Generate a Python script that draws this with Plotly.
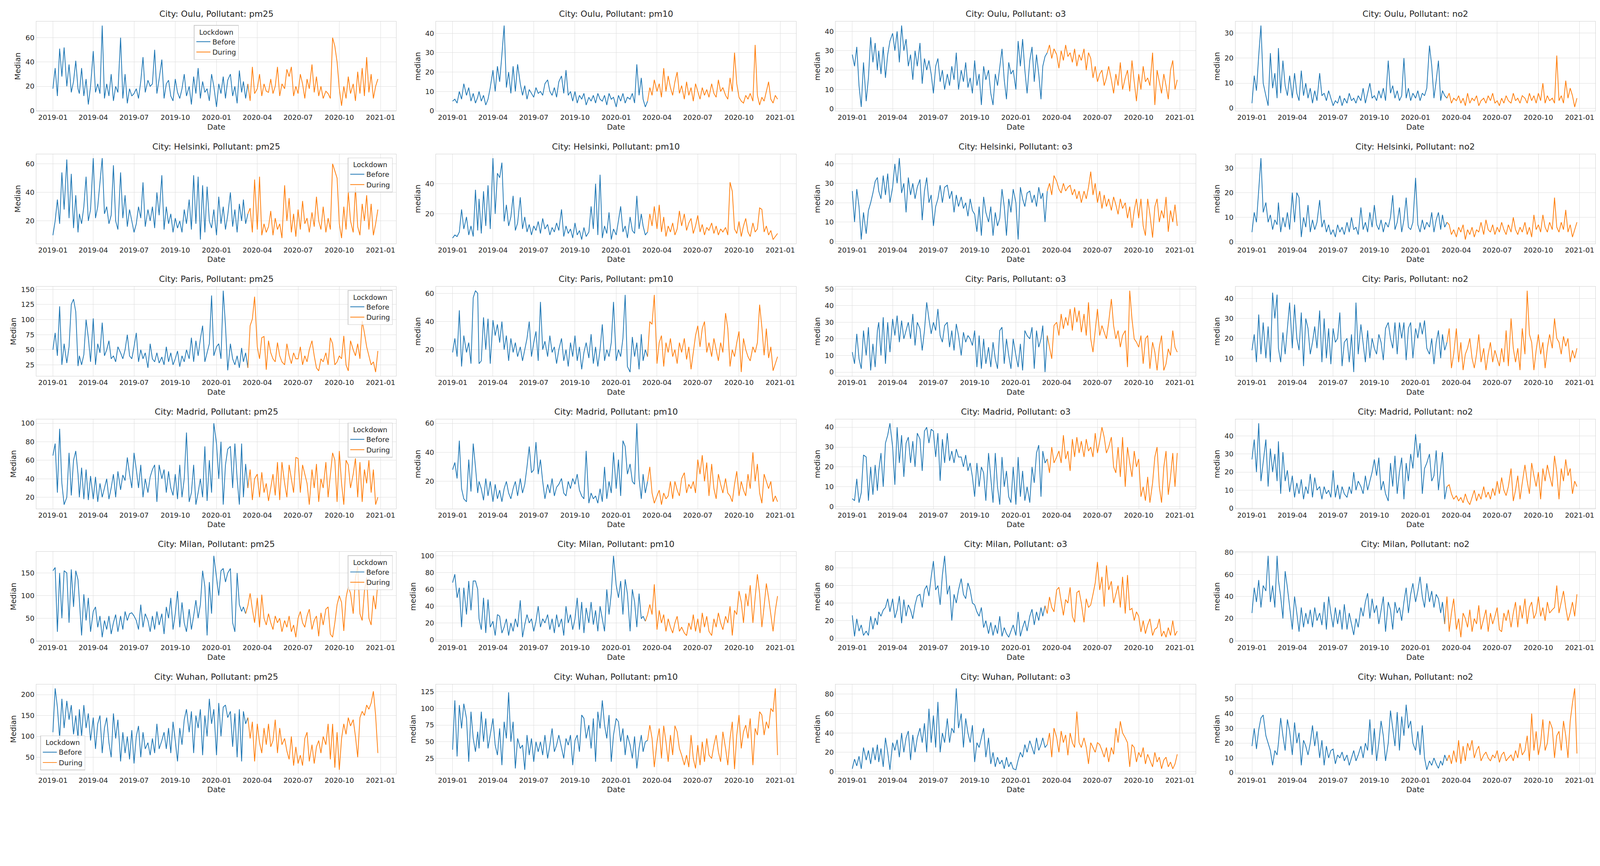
import plotly.graph_objects as go
from plotly.subplots import make_subplots

CITIES = ['Oulu', 'Helsinki', 'Paris', 'Madrid', 'Milan', 'Wuhan']
POLLUTANTS = ['pm25', 'pm10', 'o3', 'no2']

# one reading every 5 days or so (1st, 6th, 11th, 16th, 21st, 26th of each month)
DAYS = [1, 6, 11, 16, 21, 26]
DATES = [f'{y}-{m:02d}-{d:02d}' for y in (2019, 2020) for m in range(1, 13) for d in DAYS]

LOCKDOWN_START = {
    'Oulu': '2020-03-16', 'Helsinki': '2020-03-16', 'Paris': '2020-03-16',
    'Madrid': '2020-03-14', 'Milan': '2020-03-09', 'Wuhan': '2020-03-16',
}

Y_DTICK = {
    'Oulu': [20, 10, 10, 10],
    'Helsinki': [20, 20, 10, 10],
    'Paris': [25, 20, 10, 10],
    'Madrid': [20, 20, 10, 10],
    'Milan': [50, 20, 20, 20],
    'Wuhan': [50, 25, 20, 10],
}

# ---- Oulu ----
OULU_PM25 = [
    18, 35, 12, 51, 28, 52,
    20, 38, 15, 24, 41, 18,
    14, 35, 12, 26, 5, 20,
    49, 15, 22, 14, 70, 10,
    22, 12, 30, 8, 20, 15,
    60, 10, 30, 6, 18, 12,
    14, 18, 10, 24, 44, 15,
    25, 20, 22, 50, 14, 26,
    42, 10, 22, 25, 12, 8,
    26, 15, 10, 18, 30, 12,
    20, 5, 28, 14, 35, 10,
    24, 15, 18, 8, 30, 20,
    3, 22, 14, 28, 10, 25,
    30, 12, 20, 6, 33, 15,
    24, 10, 22, 8, 36, 14,
    18, 30, 12, 22, 16, 15,
    26, 14, 20, 36, 12, 22,
    18, 34, 28, 36, 12, 20,
    14, 30, 22, 10, 26, 18,
    38, 15, 28, 12, 20, 10,
    16, 14, 10, 60, 53, 40,
    18, 4, 20, 10, 28, 14,
    22, 8, 32, 14, 35, 12,
    44, 15, 30, 10, 20, 26,
]
OULU_PM10 = [
    5, 6, 4, 10, 6, 14,
    8, 12, 5, 9, 4, 7,
    10, 5, 8, 3, 6, 12,
    21, 10, 23, 15, 29, 44,
    12, 20, 9, 23, 10, 24,
    14, 8, 13, 6, 11, 9,
    7, 12, 9, 10, 8, 14,
    16, 10, 8, 12, 7, 15,
    18, 9, 21, 8, 10, 5,
    10, 4, 8, 6, 9, 3,
    7, 5, 8, 4, 9, 6,
    5, 8, 3, 9, 6, 7,
    2, 8, 5, 9, 4, 7,
    6, 9, 4, 24, 8, 17,
    6, 2, 5, 12, 8, 16,
    10, 14, 7, 22, 10, 18,
    12, 8, 15, 20, 9, 13,
    6, 15, 8, 12, 5, 14,
    10, 6, 12, 8, 11, 7,
    14, 9, 7, 16, 10, 12,
    8, 6, 17, 10, 30, 14,
    7, 5, 4, 8, 6, 9,
    5, 34, 8, 3, 7, 5,
    10, 15, 6, 4, 8, 6,
]
OULU_O3 = [
    28, 22, 32, 12, 1, 24,
    4, 16, 37, 24, 34, 20,
    30, 18, 32, 16, 28, 35,
    39, 30, 40, 24, 43, 30,
    36, 22, 28, 15, 30, 22,
    34, 13, 26, 20, 25, 18,
    8, 22, 26, 14, 20, 10,
    18, 12, 22, 15, 29, 10,
    20, 14, 24, 11, 16, 8,
    25, 12, 18, 2, 22, 15,
    20, 8, 2, 18, 12, 22,
    31, 15, 5, 24, 18, 20,
    10, 35, 22, 36, 20, 8,
    25, 32, 14, 28, 18, 5,
    22, 27, 29, 33, 26, 31,
    28, 21, 30, 25, 33, 27,
    29, 24, 31, 22, 28, 25,
    31, 20, 29, 26, 16, 22,
    14, 18, 20, 12, 16, 22,
    15, 8, 18, 12, 24, 10,
    16, 20, 9, 25, 14, 4,
    18, 10, 22, 14, 16, 12,
    29, 2, 20, 14, 8, 18,
    12, 5, 20, 25, 10, 15,
]
OULU_NO2 = [
    2, 13, 7, 21, 33, 10,
    5, 1, 22, 8, 14, 4,
    24, 6, 19, 9, 5, 13,
    4, 14, 6, 3, 15, 5,
    10, 4, 8, 2, 7, 3,
    14, 5, 6, 3, 7, 4,
    1, 3, 2, 5, 1, 4,
    2, 6, 3, 4, 2, 5,
    3, 8, 2, 6, 10, 4,
    5, 3, 7, 4, 8, 3,
    19, 6, 9, 4, 7, 3,
    5, 20, 4, 8, 3, 6,
    4, 7, 3, 6, 5, 8,
    25, 17, 4, 11, 19, 3,
    7, 5, 4, 6, 2, 4,
    3, 5, 2, 4, 1, 6,
    2, 4, 3, 5, 1, 3,
    4, 2, 5, 3, 6, 2,
    3, 1, 4, 2, 5, 3,
    2, 6, 3, 4, 2, 5,
    4, 2, 6, 3, 5, 2,
    6, 3, 10, 2, 5, 3,
    4, 2, 21, 3, 5, 2,
    11, 4, 8, 5, 0.5, 4,
]

# ---- Helsinki ----
HELSINKI_PM25 = [
    10, 20, 35, 18, 54, 28,
    63, 22, 53, 15, 38, 12,
    25, 18, 30, 51, 20, 28,
    64, 22, 30, 48, 64, 25,
    30, 18, 24, 59, 20, 14,
    54, 22, 38, 16, 28, 20,
    12, 18, 30, 22, 47, 16,
    28, 20, 30, 15, 40, 24,
    52, 14, 30, 18, 25, 12,
    22, 15, 20, 12, 28, 18,
    35, 14, 52, 18, 51, 7,
    45, 12, 44, 20, 15, 28,
    10, 37, 18, 30, 14, 24,
    40, 16, 28, 12, 32, 20,
    35, 18, 25, 29, 12, 49,
    14, 51, 10, 18, 12, 16,
    27, 10, 22, 14, 18, 8,
    45, 20, 36, 12, 25, 9,
    28, 14, 34, 18, 22, 12,
    26, 16, 37, 20, 14, 30,
    12, 22, 14, 60, 55, 50,
    18, 8, 30, 14, 40, 20,
    12, 44, 16, 10, 32, 20,
    38, 14, 32, 10, 18, 28,
]
HELSINKI_PM10 = [
    4, 6, 5, 8, 23, 10,
    18, 6, 12, 5, 36, 9,
    30, 7, 35, 12, 39, 10,
    57, 20, 47, 44, 54, 15,
    26, 12, 18, 32, 9, 14,
    31, 10, 18, 8, 13, 6,
    12, 9, 15, 7, 17, 10,
    13, 6, 11, 8, 14, 9,
    23, 5, 12, 7, 10, 4,
    14, 6, 9, 3, 11, 5,
    8, 25, 10, 40, 6, 46,
    4, 12, 7, 21, 3, 10,
    6, 15, 25, 8, 12, 4,
    18, 9, 7, 32, 10, 20,
    12, 6, 8, 20, 12, 25,
    10, 26, 8, 18, 5, 12,
    8, 14, 6, 10, 22, 12,
    20, 9, 14, 17, 7, 12,
    19, 8, 13, 6, 11, 9,
    14, 7, 12, 6, 10, 8,
    11, 6, 41, 35, 10, 7,
    15, 5, 12, 17, 8, 5,
    14, 8, 10, 24, 23, 8,
    12, 6, 9, 3, 5, 7,
]
HELSINKI_O3 = [
    26, 10, 27, 18, 1, 15,
    4, 16, 20, 25, 31, 33,
    26, 22, 34, 24, 35, 20,
    28, 40, 30, 43, 25, 30,
    15, 33, 24, 30, 22, 28,
    32, 11, 26, 33, 20, 24,
    8, 18, 22, 29, 20, 28,
    29, 22, 26, 15, 24, 18,
    23, 17, 20, 13, 22, 16,
    14, 5, 18, 3, 23, 15,
    10, 18, 3, 15, 8, 12,
    27, 18, 3, 22, 15, 27,
    20, 1, 28, 22, 18, 25,
    26, 20, 24, 18, 28, 22,
    25, 10, 26, 30, 24, 34,
    31, 27, 25, 30, 26, 28,
    29, 24, 27, 22, 26, 20,
    26, 22, 28, 36, 24, 30,
    20, 26, 17, 24, 18, 22,
    16, 23, 19, 14, 22, 17,
    20, 12, 18, 7, 16, 22,
    12, 22, 8, 3, 22, 14,
    2, 18, 22, 10, 16, 12,
    23, 5, 16, 10, 19, 8,
]
HELSINKI_NO2 = [
    4, 12, 8, 21, 34, 12,
    16, 8, 11, 5, 9, 7,
    16, 4, 10, 6, 12, 5,
    20, 8, 20, 18, 2, 10,
    6, 15, 4, 9, 5, 8,
    17, 6, 9, 4, 7, 3,
    5, 2, 7, 4, 6, 3,
    8, 4, 10, 5, 6, 3,
    14, 5, 8, 4, 12, 6,
    15, 7, 5, 9, 4, 8,
    6, 10, 19, 5, 8, 14,
    4, 9, 18, 6, 5, 8,
    26, 7, 4, 9, 5, 8,
    6, 12, 4, 9, 12, 5,
    11, 6, 8, 7, 3, 5,
    2, 6, 4, 7, 1, 5,
    3, 6, 2, 5, 4, 8,
    3, 9, 5, 4, 7, 3,
    6, 4, 8, 5, 3, 7,
    4, 10, 5, 3, 6, 4,
    8, 3, 6, 2, 11, 5,
    7, 4, 11, 6, 4, 8,
    5, 18, 6, 4, 8, 5,
    13, 4, 7, 2, 5, 8,
]

# ---- Paris ----
PARIS_PM25 = [
    50, 78, 40, 122, 25, 60,
    28, 55, 125, 134, 113, 23,
    40, 25, 42, 100, 70, 30,
    102, 25, 60, 45, 95, 40,
    50, 65, 35, 40, 30, 55,
    45, 35, 50, 75, 40, 35,
    55, 78, 30, 50, 35, 45,
    20, 60, 35, 30, 45, 28,
    38, 25, 55, 30, 45, 25,
    35, 48, 22, 40, 30, 50,
    35, 70, 30, 65, 40, 68,
    90, 30, 45, 60, 140, 40,
    55, 60, 35, 148, 90, 16,
    60, 35, 25, 40, 20, 53,
    30, 45, 20, 90, 101, 138,
    55, 35, 70, 72, 17, 65,
    45, 35, 30, 62, 40, 30,
    25, 60, 40, 27, 45, 35,
    35, 55, 25, 40, 30, 50,
    65, 40, 20, 15, 35, 30,
    45, 25, 70, 60, 25, 30,
    40, 35, 73, 25, 15, 65,
    50, 40, 60, 35, 98, 78,
    55, 40, 25, 30, 13, 48,
]
PARIS_PM10 = [
    18, 28, 15, 48, 8, 30,
    18, 25, 10, 57, 62, 60,
    10, 12, 43, 20, 42, 10,
    41, 30, 38, 25, 40, 20,
    30, 12, 28, 18, 25, 15,
    22, 12, 20, 28, 40, 15,
    25, 33, 12, 54, 20, 26,
    15, 30, 18, 22, 10, 20,
    28, 12, 20, 8, 25, 15,
    30, 12, 22, 6, 18, 25,
    14, 31, 10, 22, 8, 20,
    38, 12, 20, 15, 25, 54,
    12, 20, 15, 28, 59, 8,
    4, 29, 15, 25, 6, 31,
    12, 20, 15, 40, 38, 59,
    10, 25, 30, 8, 25, 18,
    28, 15, 20, 10, 25, 18,
    28, 13, 22, 6, 18, 30,
    37, 22, 35, 40, 18, 25,
    15, 28, 20, 12, 25, 18,
    46, 35, 8, 20, 15, 25,
    33, 4, 28, 20, 15, 12,
    22, 18, 25, 52, 36, 16,
    35, 14, 22, 5, 10, 15,
]
PARIS_O3 = [
    12, 5, 23, 8, 2, 25,
    10, 27, 1, 17, 3, 25,
    30, 10, 33, 5, 30, 12,
    32, 22, 34, 18, 31, 20,
    25, 30, 20, 35, 16, 30,
    26, 13, 25, 42, 32, 23,
    30, 25, 38, 22, 18, 28,
    30, 15, 25, 13, 29, 22,
    10, 24, 18, 22, 20, 16,
    25, 3, 22, 2, 20, 5,
    15, 3, 18, 8, 2, 25,
    27, 5, 20, 10, 2, 20,
    10, 3, 17, 1, 25, 22,
    20, 27, 2, 25, 15, 20,
    28, 0, 22, 15, 8, 28,
    30, 22, 35, 26, 33, 28,
    38, 25, 39, 30, 37, 24,
    35, 22, 42, 20, 12, 25,
    38, 22, 28, 24, 20, 30,
    44, 28, 20, 25, 15, 22,
    25, 3, 49, 32, 20, 18,
    15, 22, 5, 20, 22, 2,
    18, 12, 1, 15, 22, 1,
    5, 14, 10, 25, 15, 12,
]
PARIS_NO2 = [
    14, 22, 8, 32, 12, 28,
    10, 26, 8, 43, 30, 42,
    15, 8, 23, 12, 25, 38,
    15, 37, 20, 14, 33, 6,
    30, 25, 12, 18, 26, 15,
    34, 8, 30, 10, 25, 7,
    25, 18, 20, 33, 6, 18,
    20, 8, 22, 3, 38, 12,
    27, 18, 8, 24, 10, 20,
    15, 12, 22, 18, 9, 25,
    28, 20, 15, 28, 12, 28,
    20, 28, 9, 25, 28, 10,
    25, 20, 28, 22, 29, 15,
    12, 20, 7, 18, 24, 10,
    22, 14, 18, 25, 5, 12,
    25, 8, 18, 4, 12, 15,
    20, 10, 5, 12, 22, 8,
    15, 4, 12, 18, 8, 14,
    10, 6, 15, 8, 24, 6,
    30, 15, 8, 15, 4, 25,
    12, 44, 22, 18, 4, 14,
    22, 12, 18, 5, 15, 22,
    15, 30, 20, 18, 12, 21,
    16, 20, 8, 14, 10, 15,
]

# ---- Madrid ----
MADRID_PM25 = [
    65, 78, 25, 94, 35, 12,
    20, 68, 22, 60, 70, 45,
    20, 52, 18, 50, 17, 43,
    18, 42, 15, 35, 20, 30,
    40, 18, 30, 45, 20, 48,
    28, 44, 38, 63, 45, 30,
    68, 50, 30, 55, 20, 40,
    25, 42, 50, 55, 15, 55,
    40, 50, 25, 48, 30, 22,
    45, 18, 55, 20, 40, 90,
    15, 25, 55, 12, 25, 40,
    20, 75, 16, 60, 25, 100,
    78, 40, 80, 12, 55, 72,
    75, 30, 78, 40, 12, 78,
    20, 56, 30, 50, 17, 40,
    45, 20, 47, 25, 35, 16,
    30, 45, 22, 58, 17, 58,
    35, 20, 55, 40, 25, 63,
    62, 25, 55, 45, 35, 12,
    50, 30, 56, 15, 40, 30,
    58, 20, 45, 68, 60, 15,
    70, 35, 12, 60, 55, 30,
    45, 62, 20, 58, 15, 50,
    35, 60, 25, 50, 12, 20,
]
MADRID_PM10 = [
    28, 33, 22, 48, 15, 8,
    6, 35, 13, 46, 30, 12,
    20, 15, 7, 22, 10, 20,
    6, 18, 8, 14, 6, 15,
    20, 12, 8, 15, 20, 10,
    22, 12, 18, 30, 44, 26,
    28, 47, 25, 35, 20, 8,
    18, 12, 22, 10, 16, 18,
    22, 12, 10, 20, 15, 22,
    18, 25, 14, 10, 8, 41,
    5, 12, 8, 10, 5, 15,
    6, 30, 8, 20, 12, 40,
    15, 35, 10, 48, 44, 25,
    32, 20, 18, 60, 22, 8,
    25, 12, 20, 30, 12, 5,
    10, 14, 4, 12, 8, 10,
    20, 8, 20, 14, 10, 22,
    26, 12, 18, 15, 20, 12,
    35, 25, 38, 20, 33, 10,
    32, 15, 8, 25, 18, 12,
    22, 12, 10, 6, 18, 27,
    10, 20, 14, 10, 25, 15,
    40, 20, 32, 12, 5, 25,
    20, 15, 20, 6, 10, 6,
]
MADRID_O3 = [
    4, 3, 14, 2, 7, 26,
    25, 3, 20, 6, 21, 8,
    18, 27, 10, 32, 36, 42,
    30, 11, 40, 22, 36, 15,
    32, 35, 22, 33, 20, 37,
    34, 18, 38, 40, 32, 39,
    38, 25, 37, 13, 34, 22,
    37, 23, 28, 22, 29, 25,
    25, 20, 26, 18, 22, 15,
    5, 22, 10, 20, 17, 3,
    27, 15, 2, 27, 10, 1,
    25, 10, 18, 5, 2, 20,
    1, 25, 5, 18, 3, 10,
    2, 20, 12, 27, 31, 5,
    28, 22, 24, 17, 30, 22,
    25, 28, 22, 36, 24, 28,
    18, 34, 25, 35, 27, 33,
    25, 34, 28, 30, 25, 37,
    27, 33, 40, 35, 27, 30,
    35, 20, 17, 30, 15, 35,
    10, 30, 22, 15, 28, 20,
    24, 5, 10, 3, 15, 2,
    12, 25, 30, 10, 2, 20,
    28, 6, 15, 27, 10, 27,
]
MADRID_NO2 = [
    27, 38, 20, 47, 15, 25,
    38, 12, 33, 20, 30, 15,
    37, 8, 31, 15, 21, 9,
    18, 6, 14, 8, 16, 5,
    12, 8, 19, 6, 17, 10,
    12, 5, 12, 8, 10, 6,
    21, 6, 13, 5, 12, 8,
    6, 12, 8, 20, 10, 15,
    12, 8, 18, 10, 15, 20,
    27, 18, 28, 10, 15, 8,
    4, 25, 12, 29, 8, 20,
    28, 5, 25, 15, 30, 22,
    41, 28, 36, 8, 22, 25,
    30, 15, 18, 32, 10, 22,
    31, 5, 12, 13, 8, 5,
    7, 4, 6, 3, 8, 4,
    2, 6, 10, 4, 8, 5,
    12, 6, 9, 5, 11, 7,
    15, 8, 17, 10, 7, 12,
    22, 4, 10, 18, 5, 14,
    24, 15, 8, 25, 18, 12,
    20, 5, 22, 15, 24, 18,
    12, 29, 20, 5, 22, 15,
    27, 18, 22, 8, 15, 12,
]

# ---- Milan ----
MILAN_PM25 = [
    155, 162, 20, 150, 50, 155,
    150, 40, 158, 75, 155, 135,
    90, 12, 103, 45, 95, 20,
    65, 75, 30, 55, 8, 45,
    25, 55, 15, 40, 58, 20,
    55, 25, 65, 45, 60, 62,
    55, 45, 25, 80, 30, 60,
    45, 20, 55, 25, 65, 35,
    60, 15, 75, 50, 95, 25,
    60, 110, 30, 85, 40, 20,
    70, 25, 55, 90, 50, 80,
    155, 120, 12, 130, 60, 188,
    140, 100, 155, 160, 130, 150,
    160, 40, 20, 150, 80, 65,
    75, 60, 78, 105, 70, 40,
    95, 30, 102, 50, 35, 60,
    40, 25, 55, 40, 50, 20,
    45, 30, 55, 20, 35, 8,
    50, 65, 40, 30, 55, 70,
    25, 45, 55, 10, 62, 35,
    70, 75, 15, 8, 40, 80,
    100, 85, 22, 95, 120, 105,
    60, 140, 165, 60, 45, 110,
    140, 50, 35, 100, 70, 130,
]
MILAN_PM10 = [
    68, 78, 50, 62, 15, 62,
    30, 70, 35, 70, 70, 60,
    25, 12, 50, 8, 48, 15,
    22, 5, 30, 28, 8, 15,
    25, 5, 20, 10, 25, 15,
    47, 3, 18, 30, 20, 25,
    10, 22, 40, 15, 25, 20,
    30, 12, 25, 8, 30, 15,
    25, 5, 40, 20, 30, 12,
    25, 50, 12, 45, 8, 38,
    20, 45, 18, 35, 10, 40,
    25, 10, 60, 30, 55, 100,
    65, 50, 70, 30, 72, 55,
    10, 60, 45, 15, 55, 25,
    28, 22, 30, 42, 30, 66,
    12, 35, 20, 30, 10, 25,
    15, 8, 20, 28, 10, 15,
    8, 5, 20, 12, 30, 10,
    25, 8, 32, 15, 28, 10,
    5, 25, 15, 32, 20, 12,
    28, 20, 40, 5, 35, 30,
    58, 45, 20, 55, 40, 65,
    20, 50, 78, 55, 15, 40,
    67, 50, 30, 10, 35, 52,
]
MILAN_O3 = [
    26, 2, 22, 8, 15, 3,
    8, 3, 25, 10, 23, 15,
    30, 25, 32, 35, 45, 30,
    45, 23, 32, 48, 17, 44,
    25, 38, 32, 22, 38, 48,
    50, 35, 55, 60, 48, 70,
    88, 55, 60, 38, 72, 94,
    50, 60, 20, 50, 40, 55,
    68, 50, 45, 63, 55, 40,
    38, 30, 25, 35, 12, 20,
    5, 18, 3, 15, 5, 25,
    2, 12, 5, 1, 8, 15,
    3, 30, 2, 12, 20, 8,
    25, 33, 15, 30, 20, 35,
    25, 37, 28, 47, 35, 30,
    55, 58, 42, 26, 44, 40,
    58, 25, 18, 52, 54, 40,
    18, 45, 35, 38, 50, 63,
    87, 55, 70, 36, 83, 55,
    65, 40, 50, 60, 35, 70,
    28, 72, 32, 34, 20, 30,
    25, 7, 20, 5, 15, 22,
    3, 10, 12, 22, 2, 8,
    1, 12, 3, 20, 3, 8,
]
MILAN_NO2 = [
    25, 48, 35, 55, 30, 50,
    45, 77, 35, 50, 30, 77,
    55, 40, 20, 63, 48, 30,
    10, 40, 25, 8, 30, 12,
    25, 15, 28, 12, 30, 18,
    25, 14, 35, 10, 40, 25,
    12, 30, 15, 28, 10, 33,
    10, 25, 15, 5, 20, 12,
    30, 22, 35, 43, 20, 38,
    25, 32, 15, 28, 40, 8,
    35, 28, 10, 35, 25, 30,
    18, 35, 48, 25, 42, 52,
    35, 45, 58, 40, 30, 52,
    35, 45, 30, 42, 38, 25,
    35, 15, 40, 8, 25, 38,
    10, 20, 3, 25, 20, 12,
    28, 8, 20, 15, 32, 10,
    20, 28, 8, 25, 15, 22,
    30, 10, 8, 25, 18, 28,
    12, 25, 35, 12, 32, 20,
    38, 15, 30, 35, 20, 25,
    40, 22, 30, 18, 35, 25,
    28, 30, 50, 25, 35, 45,
    30, 18, 25, 35, 22, 42,
]

# ---- Wuhan ----
WUHAN_PM25 = [
    110, 215, 170, 95, 190, 120,
    185, 140, 175, 105, 150, 95,
    165, 100, 175, 120, 155, 90,
    145, 70, 130, 150, 60, 120,
    145, 85, 50, 155, 95, 140,
    40, 110, 60, 100, 45, 115,
    35, 100, 125, 50, 110, 70,
    85, 55, 95, 60, 130, 70,
    90, 110, 70, 120, 60, 135,
    90, 40, 120, 80, 140, 165,
    110, 160, 60, 150, 120, 165,
    55, 150, 100, 190, 130, 165,
    55, 180, 100, 170, 175, 145,
    160, 75, 155, 50, 165, 40,
    160, 130, 145, 95, 135, 40,
    130, 85, 60, 120, 80, 130,
    75, 90, 140, 60, 120, 80,
    95, 65, 45, 100, 30, 75,
    35, 55, 30, 95, 110, 40,
    80, 35, 75, 90, 60, 100,
    80, 130, 45, 130, 25, 110,
    20, 95, 130, 105, 145, 125,
    140, 100, 50, 145, 160, 150,
    175, 165, 180, 208, 150, 60,
]
WUHAN_PM10 = [
    38, 112, 28, 105, 70, 107,
    85, 20, 95, 55, 35, 65,
    40, 95, 50, 85, 40, 60,
    85, 45, 30, 70, 15, 80,
    55, 124, 50, 80, 10, 55,
    40, 45, 8, 60, 30, 55,
    20, 50, 35, 50, 30, 60,
    25, 45, 70, 35, 45, 60,
    40, 25, 55, 45, 60, 15,
    52, 60, 35, 90, 85, 55,
    75, 40, 85, 20, 95, 70,
    112, 75, 55, 90, 20, 60,
    85, 80, 50, 70, 30, 60,
    45, 25, 58, 10, 40, 60,
    35, 50, 52, 75, 55, 12,
    50, 70, 25, 74, 50, 20,
    60, 30, 74, 65, 40, 30,
    15, 30, 12, 60, 25, 10,
    45, 15, 50, 20, 55, 30,
    25, 45, 60, 35, 20, 65,
    40, 15, 55, 80, 9, 60,
    90, 40, 65, 75, 55, 85,
    15, 70, 60, 95, 90, 60,
    80, 70, 100, 95, 130, 30,
]
WUHAN_O3 = [
    3, 13, 6, 16, 3, 25,
    12, 22, 8, 25, 12, 28,
    10, 24, 5, 35, 20, 2,
    30, 22, 33, 15, 40, 20,
    35, 42, 12, 38, 20, 35,
    45, 30, 50, 20, 65, 30,
    58, 25, 72, 20, 40, 30,
    55, 30, 45, 40, 86, 45,
    60, 25, 55, 40, 30, 48,
    10, 30, 25, 35, 45, 15,
    35, 8, 20, 5, 15, 8,
    12, 3, 15, 5, 10, 3,
    2, 12, 20, 15, 28, 20,
    32, 25, 18, 35, 22, 28,
    35, 25, 28, 40, 15, 45,
    35, 20, 42, 30, 38, 17,
    40, 30, 25, 62, 30, 25,
    35, 25, 8, 30, 25, 20,
    30, 28, 22, 15, 25, 10,
    25, 18, 45, 30, 52, 40,
    35, 30, 5, 28, 25, 10,
    20, 15, 25, 8, 18, 12,
    5, 20, 10, 15, 3, 12,
    15, 5, 10, 3, 8, 18,
]
WUHAN_NO2 = [
    18, 30, 16, 29, 37, 39,
    25, 20, 15, 5, 15, 12,
    20, 37, 25, 15, 36, 28,
    12, 34, 20, 27, 5, 22,
    18, 12, 20, 32, 18, 28,
    10, 22, 5, 18, 10, 15,
    16, 6, 12, 10, 14, 8,
    12, 5, 10, 15, 8, 12,
    18, 10, 20, 15, 36, 12,
    30, 8, 20, 35, 25, 8,
    20, 42, 30, 18, 41, 15,
    38, 25, 46, 30, 35, 20,
    15, 28, 12, 32, 10, 2,
    8, 5, 10, 6, 3, 8,
    5, 12, 8, 12, 6, 15,
    7, 22, 6, 18, 8, 20,
    15, 22, 10, 15, 18, 8,
    12, 14, 10, 8, 12, 10,
    15, 7, 12, 14, 8, 10,
    12, 8, 15, 10, 20, 12,
    15, 25, 8, 40, 15, 28,
    12, 20, 36, 15, 20, 35,
    30, 10, 25, 28, 15, 35,
    25, 10, 35, 47, 57, 13,
]

SERIES = {
    'Oulu': [OULU_PM25, OULU_PM10, OULU_O3, OULU_NO2],
    'Helsinki': [HELSINKI_PM25, HELSINKI_PM10, HELSINKI_O3, HELSINKI_NO2],
    'Paris': [PARIS_PM25, PARIS_PM10, PARIS_O3, PARIS_NO2],
    'Madrid': [MADRID_PM25, MADRID_PM10, MADRID_O3, MADRID_NO2],
    'Milan': [MILAN_PM25, MILAN_PM10, MILAN_O3, MILAN_NO2],
    'Wuhan': [WUHAN_PM25, WUHAN_PM10, WUHAN_O3, WUHAN_NO2],
}

# where the "Lockdown" legend sits inside the pm25 panel of each row
LEGEND_LOC = {
    'Oulu': 'upper center', 'Helsinki': 'upper right', 'Paris': 'upper right',
    'Madrid': 'upper right', 'Milan': 'upper right', 'Wuhan': 'lower left',
}

BLUE = '#1f77b4'
ORANGE = '#ff7f0e'
TEXT = '#262626'
GRID = '#dedede'
FONT = 'DejaVu Sans'

# the screenshot comes out ~1.08x larger than css px, so size everything in css px
SCALE = 1.08
BODY = 8  # default page margin around the plot div


def px(v):
    return v / SCALE


W = round(4427 / SCALE - 2 * BODY)
H = round(2218 / SCALE - 2 * BODY)
# target edges of the panel grid in screenshot pixels
M_L = px(100) - BODY
M_T = px(59) - BODY
M_R = W - (px(4411) - BODY)
M_B = H - (px(2141) - BODY)
COL_GAP = px(110)
ROW_GAP = px(119)

titles = [f'City: {c}, Pollutant: {p}' for c in CITIES for p in POLLUTANTS]
fig = make_subplots(
    rows=6, cols=4, subplot_titles=titles,
    horizontal_spacing=COL_GAP / (W - M_L - M_R),
    vertical_spacing=ROW_GAP / (H - M_T - M_B),
)

for r, city in enumerate(CITIES, start=1):
    split = LOCKDOWN_START[city]
    for c, pol in enumerate(POLLUTANTS, start=1):
        vals = SERIES[city][c - 1]
        if len(vals) != len(DATES):
            raise ValueError(f'{city} {pol}: {len(vals)} values')
        n_before = sum(1 for d in DATES if d < split)
        legend_name = 'legend' if r == 1 else f'legend{r}'
        show = c == 1
        fig.add_trace(go.Scatter(
            x=DATES[:n_before], y=vals[:n_before], mode='lines', name='Before',
            line=dict(color=BLUE, width=px(2.1)), showlegend=show, legend=legend_name,
        ), row=r, col=c)
        # the lockdown line picks up from the last reading before it
        fig.add_trace(go.Scatter(
            x=DATES[n_before - 1:], y=vals[n_before - 1:], mode='lines', name='During',
            line=dict(color=ORANGE, width=px(2.1)), showlegend=show, legend=legend_name,
        ), row=r, col=c)

        lo, hi = min(vals), max(vals)
        pad = (hi - lo) * 0.05
        fig.update_yaxes(
            range=[lo - pad, hi + pad], dtick=Y_DTICK[city][c - 1], tick0=0,
            title_text='Median' if c == 1 else 'median', title_standoff=px(7),
            row=r, col=c,
        )
        fig.update_xaxes(title_text='Date', title_standoff=px(8), row=r, col=c)

axis_style = dict(
    showgrid=True, gridcolor=GRID, gridwidth=px(1.6), zeroline=False,
    showline=True, linecolor='#d0d0d0', linewidth=px(1.6), mirror=True, ticks='',
    automargin=False,
    tickfont=dict(size=px(19.5), color=TEXT), title_font=dict(size=px(21), color=TEXT),
)
fig.update_xaxes(
    range=['2018-11-25', '2021-02-05'], dtick='M3', tick0='2019-01-01', tickformat='%Y-%m',
    **axis_style,
)
fig.update_yaxes(**axis_style)
fig.update_annotations(font=dict(size=px(23.5), color=TEXT, family=FONT), yshift=px(5))

# one legend per row, placed inside the pm25 axes
legends = {}
for r, city in enumerate(CITIES, start=1):
    key = 'xaxis' if r == 1 else f'xaxis{(r - 1) * 4 + 1}'
    ykey = 'yaxis' if r == 1 else f'yaxis{(r - 1) * 4 + 1}'
    x0, x1 = fig.layout[key].domain
    y0, y1 = fig.layout[ykey].domain
    loc = LEGEND_LOC[city]
    if loc == 'upper center':
        pos = dict(x=x0 + 0.5 * (x1 - x0), xanchor='center', y=y0 + 0.96 * (y1 - y0), yanchor='top')
    elif loc == 'upper right':
        pos = dict(x=x0 + 0.99 * (x1 - x0), xanchor='right', y=y0 + 0.96 * (y1 - y0), yanchor='top')
    else:
        pos = dict(x=x0 + 0.011 * (x1 - x0), xanchor='left', y=y0 + 0.04 * (y1 - y0), yanchor='bottom')
    legends['legend' if r == 1 else f'legend{r}'] = dict(
        **pos,
        title=dict(text='Lockdown', side='top center', font=dict(size=px(19), color=TEXT)),
        font=dict(size=px(19.5), color=TEXT),
        bgcolor='rgba(255,255,255,0.8)', bordercolor='#cccccc', borderwidth=px(1.6),
        itemwidth=36, tracegroupgap=0,
    )

fig.update_layout(
    width=W, height=H,
    margin=dict(l=M_L, r=M_R, t=M_T, b=M_B),
    paper_bgcolor='white', plot_bgcolor='white',
    font=dict(family=FONT, color=TEXT),
    **legends,
)

fig.write_html('out.html')
